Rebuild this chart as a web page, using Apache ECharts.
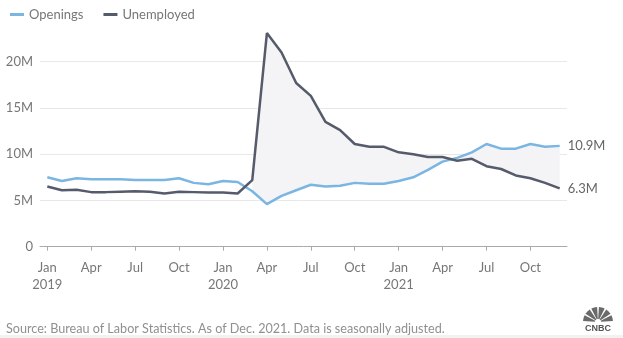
<!DOCTYPE html>
<html>
<head>
<meta charset="utf-8">
<script src="https://cdn.jsdelivr.net/npm/echarts@6/dist/echarts.min.js"></script>
<style>
html,body{margin:0;padding:0;background:#fff;}
#chart{width:623px;height:338px;}
</style>
</head>
<body>
<div id="chart"></div>
<script>
// Months Jan 2019 .. Dec 2021
const months = [
  'Jan\n2019','Feb','Mar','Apr','May','Jun','Jul','Aug','Sep','Oct','Nov','Dec',
  'Jan\n2020','Feb','Mar','Apr','May','Jun','Jul','Aug','Sep','Oct','Nov','Dec',
  'Jan\n2021','Feb','Mar','Apr','May','Jun','Jul','Aug','Sep','Oct','Nov','Dec'
];
// Values in millions
const openings = [
  7.5, 7.1, 7.4, 7.3, 7.3, 7.3, 7.2, 7.2, 7.2, 7.4, 6.9, 6.75,
  7.1, 7.0, 6.0, 4.6, 5.5, 6.1, 6.7, 6.5, 6.6, 6.9, 6.8, 6.8,
  7.1, 7.5, 8.3, 9.2, 9.6, 10.2, 11.1, 10.6, 10.6, 11.1, 10.8, 10.9
];
const unemployed = [
  6.5, 6.1, 6.15, 5.9, 5.9, 5.95, 6.0, 5.95, 5.75, 5.95, 5.9, 5.85,
  5.85, 5.75, 7.2, 23.1, 21.0, 17.7, 16.3, 13.5, 12.6, 11.1, 10.8, 10.8,
  10.2, 10.0, 9.7, 9.7, 9.3, 9.5, 8.7, 8.4, 7.7, 7.4, 6.9, 6.3
];
const seriesNames = ['Openings', 'Unemployed'];
const endLabels = ['10.9M', '6.3M'];
const yTicks = [0, 5, 10, 15, 20];
const yTickLabels = ['0', '5M', '10M', '15M', '20M'];
const shadeStart = 14; // Mar 2020
const sourceText = 'Source: Bureau of Labor Statistics. As of Dec. 2021. Data is seasonally adjusted.';

const FONT = 'Lato, "Open Sans", sans-serif';
const blue = '#7ab6e1';
const dark = '#565b6c';

const chart = echarts.init(document.getElementById('chart'), null, {renderer: 'canvas'});

// Logo feathers (graphic)
const logoCx = 598, logoCy = 322, logoR = 15;
const feathers = [];
for (let i = 0; i < 6; i++) {
  const a0 = Math.PI + i * Math.PI / 6 + 0.06;
  const a1 = Math.PI + (i + 1) * Math.PI / 6 - 0.06;
  feathers.push({
    type: 'sector',
    shape: {cx: logoCx, cy: logoCy, r: logoR, r0: 3, startAngle: a0, endAngle: a1},
    style: {fill: '#6a6a6a'}
  });
}

const option = {
  animation: false,
  backgroundColor: '#ffffff',
  textStyle: {fontFamily: FONT},
  legend: {
    left: 5, top: 3,
    itemWidth: 14, itemHeight: 3, itemGap: 20,
    icon: 'rect',
    textStyle: {color: '#777', fontSize: 13, fontFamily: FONT},
    data: seriesNames
  },
  grid: {left: 40, right: 56, top: 61.7, bottom: 91.3, containLabel: false},
  xAxis: {
    type: 'category',
    data: months,
    boundaryGap: true,
    axisLine: {show: true, lineStyle: {color: '#aaa', width: 1}},
    axisTick: {show: true, alignWithLabel: true, interval: 2, length: 4, lineStyle: {color: '#aaa'}},
    axisLabel: {interval: 2, color: '#777', fontSize: 13, lineHeight: 17, margin: 13, fontFamily: FONT},
    splitLine: {show: false}
  },
  yAxis: {
    type: 'value',
    min: yTicks[0], max: yTicks[yTicks.length - 1], interval: 5,
    axisLine: {show: false},
    axisTick: {show: false},
    axisLabel: {
      color: '#777', fontSize: 13, margin: 7, fontFamily: FONT,
      formatter: v => yTickLabels[yTicks.indexOf(v)] ?? ''
    },
    splitLine: {show: true, lineStyle: {color: '#e8e8e8', width: 1}}
  },
  series: [
    {
      type: 'custom',
      name: 'shade',
      silent: true,
      z: 1,
      clip: false,
      data: [0],
      renderItem: function (params, api) {
        const pts = [];
        for (let i = shadeStart; i < unemployed.length; i++) pts.push(api.coord([i, unemployed[i]]));
        for (let i = openings.length - 1; i >= shadeStart; i--) pts.push(api.coord([i, openings[i]]));
        return {type: 'polygon', shape: {points: pts}, style: {fill: '#f4f4f6'}};
      }
    },
    {
      name: seriesNames[0],
      type: 'line',
      data: openings,
      symbol: 'none',
      clip: false,
      z: 3,
      color: blue,
      lineStyle: {color: blue, width: 2.5},
      endLabel: {show: true, formatter: () => endLabels[0], color: '#666', fontSize: 13, distance: 8, fontFamily: FONT}
    },
    {
      name: seriesNames[1],
      type: 'line',
      data: unemployed,
      symbol: 'none',
      clip: false,
      z: 4,
      color: dark,
      lineStyle: {color: dark, width: 2.5},
      endLabel: {show: true, formatter: () => endLabels[1], color: '#666', fontSize: 13, distance: 8, fontFamily: FONT}
    }
  ],
  graphic: [
    {type: 'rect', shape: {x: 0, y: 335, width: 623, height: 3}, style: {fill: '#f2f2f2'}, silent: true},
    {type: 'text', left: 6, top: 322, style: {text: sourceText, fill: '#909090', fontSize: 12.6, fontFamily: FONT}},
    {type: 'group', children: feathers.concat([
      {type: 'circle', shape: {cx: logoCx, cy: logoCy, r: 2.5}, style: {fill: '#fff'}},
      {type: 'text', style: {x: logoCx, y: logoCy + 2, text: 'CNBC', fill: '#555', fontSize: 9, fontWeight: 'bold', fontFamily: 'Arial, sans-serif', align: 'center', verticalAlign: 'top'}}
    ])}
  ]
};
chart.setOption(option);
</script>
</body>
</html>
